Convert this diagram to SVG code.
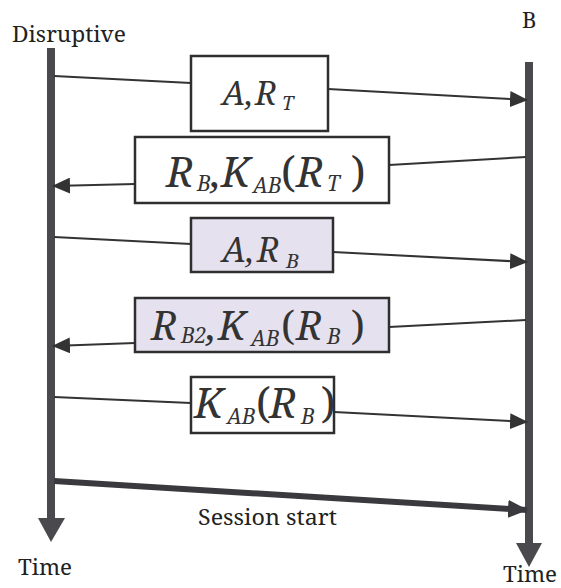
<svg xmlns="http://www.w3.org/2000/svg" width="561" height="588" viewBox="0 0 561 588">
<style>
.lbl{font-family:'Noto Serif','DejaVu Serif',serif;fill:#222;font-size:22px}
.m{font-family:'Noto Serif','DejaVu Serif',serif;font-style:italic;fill:#333}
.s{font-size:21px}
.p{font-style:normal}
.box{stroke:#2e2e2e;stroke-width:2.5;fill:#fff}
.boxf{stroke:#2e2e2e;stroke-width:2.5;fill:#e6e1ee}
.msg{stroke:#333;stroke-width:2;fill:none}
.life{stroke:#4a4a4e;stroke-width:8;fill:none}
</style>
<defs>
<marker id="ah" markerUnits="userSpaceOnUse" markerWidth="18" markerHeight="16" refX="17" refY="8" orient="auto">
<path d="M0,0 L18,8 L0,16 z" fill="#333"/>
</marker>
<marker id="ahb" markerUnits="userSpaceOnUse" markerWidth="20" markerHeight="18" refX="19" refY="9" orient="auto">
<path d="M0,0 L20,9 L0,18 z" fill="#3a3a3e"/>
</marker>
</defs>

<g id="lifeline-left">
<line class="life" x1="51" y1="48" x2="51" y2="520"/>
<polygon points="38,518 65,518 51,542" fill="#4a4a4e"/>
<text class="lbl" x="12" y="42" textLength="114" lengthAdjust="spacingAndGlyphs">Disruptive</text>
<text class="lbl" x="18" y="575" textLength="54" lengthAdjust="spacingAndGlyphs">Time</text>
</g>
<g id="lifeline-right">
<line class="life" x1="529" y1="62" x2="529" y2="545"/>
<polygon points="516,543 542,543 529,567" fill="#4a4a4e"/>
<text class="lbl" x="522" y="28" font-size="24">B</text>
<text class="lbl" x="503" y="582" textLength="54" lengthAdjust="spacingAndGlyphs">Time</text>
</g>

<g id="connectors">
<line class="msg" x1="54" y1="76" x2="191" y2="83"/>
<line class="msg" x1="328" y1="89" x2="527" y2="100" marker-end="url(#ah)"/>
<line class="msg" x1="526" y1="157" x2="389" y2="165"/>
<line class="msg" x1="135" y1="184" x2="53" y2="186" marker-end="url(#ah)"/>
<line class="msg" x1="54" y1="237" x2="191" y2="244"/>
<line class="msg" x1="333" y1="252" x2="527" y2="262" marker-end="url(#ah)"/>
<line class="msg" x1="526" y1="320" x2="389" y2="327"/>
<line class="msg" x1="135" y1="343" x2="53" y2="346" marker-end="url(#ah)"/>
<line class="msg" x1="54" y1="397" x2="191" y2="403"/>
<line class="msg" x1="334" y1="412" x2="527" y2="422" marker-end="url(#ah)"/>
<line x1="54" y1="481" x2="527" y2="510" stroke="#3a3a3e" stroke-width="6" marker-end="url(#ahb)"/>
<text class="lbl" x="198" y="525" textLength="139" lengthAdjust="spacingAndGlyphs">Session start</text>
</g>

<g id="msg1">
<rect class="box" x="191" y="56" width="137" height="75"/>
<text class="m" font-size="33" y="105"><tspan x="222">A,</tspan><tspan x="255">R</tspan><tspan x="282" dy="5" font-size="19">T</tspan></text>
</g>
<g id="msg2">
<rect class="box" x="135" y="137" width="254" height="66"/>
<text class="m" font-size="42" y="187"><tspan x="166">R</tspan><tspan class="s" x="197" dy="4">B</tspan><tspan dy="-4">,</tspan><tspan x="221">K</tspan><tspan class="s" x="253" dy="6">AB</tspan><tspan class="p" x="281" dy="-6">(</tspan><tspan x="296">R</tspan><tspan class="s" x="327" dy="4">T</tspan><tspan class="p" x="351" dy="-4">)</tspan></text>
</g>
<g id="msg3">
<rect class="boxf" x="191" y="218" width="142" height="54"/>
<text class="m" font-size="34" y="262"><tspan x="222">A,</tspan><tspan x="257">R</tspan><tspan x="286" dy="6" font-size="20">B</tspan></text>
</g>
<g id="msg4">
<rect class="boxf" x="135" y="298" width="254" height="54"/>
<text class="m" font-size="40" y="340"><tspan x="151">R</tspan><tspan class="s" x="181" dy="3">B2</tspan><tspan dy="-3">,</tspan><tspan x="218">K</tspan><tspan class="s" x="251" dy="6">AB</tspan><tspan class="p" x="281" dy="-6">(</tspan><tspan x="296">R</tspan><tspan class="s" x="327" dy="4">B</tspan><tspan class="p" x="351" dy="-4">)</tspan></text>
</g>
<g id="msg5">
<rect class="box" x="191" y="377" width="143" height="56"/>
<text class="m" font-size="42" y="418"><tspan x="194">K</tspan><tspan class="s" x="227" dy="6">AB</tspan><tspan class="p" x="256" dy="-6">(</tspan><tspan x="269">R</tspan><tspan class="s" x="301" dy="6">B</tspan><tspan class="p" x="321" dy="-6">)</tspan></text>
</g>
</svg>
